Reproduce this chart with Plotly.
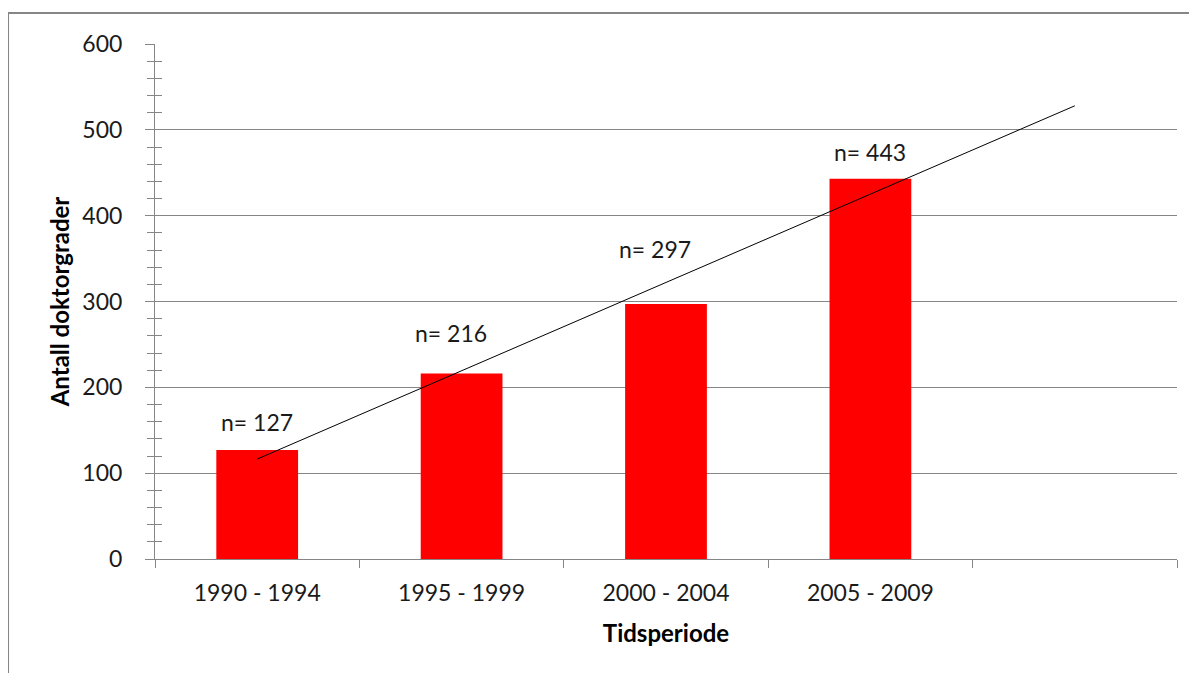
import plotly.graph_objects as go

categories = ["1990 - 1994", "1995 - 1999", "2000 - 2004", "2005 - 2009"]
extra_category = " "
values = [127, 216, 297, 443]
bar_labels = ["n= 127", "n= 216", "n= 297", "n= 443"]
label_y = [160, 263, 361, 474]
label_shift = [0, -11, -11, 0]
trend_x = ["1990 - 1994", " "]
trend_y = [116.4, 528.0]

FONT = "Lato"
GRAY = "#868686"
TXT = "#1a1a1a"

fig = go.Figure()
fig.add_trace(go.Bar(x=categories, y=values, marker=dict(color="#FF0000", line=dict(width=0)),
                     showlegend=False, hoverinfo="x+y"))
fig.add_trace(go.Scatter(x=trend_x, y=trend_y, mode="lines", yaxis="y2",
                         line=dict(color="#000000", width=1), showlegend=False))

for c, t, yy, s in zip(categories, bar_labels, label_y, label_shift):
    fig.add_annotation(x=c, y=yy, text=t, showarrow=False, xshift=s,
                       font=dict(family=FONT, size=23, color=TXT))

fig.update_layout(
    width=1197, height=673,
    margin=dict(l=147, r=28, t=36, b=122),
    paper_bgcolor="white", plot_bgcolor="white",
    bargap=0.6,
    font=dict(family=FONT, size=23, color=TXT),
    xaxis=dict(
        type="category", categoryorder="array",
        categoryarray=categories + [extra_category],
        range=[-0.5, 4.5], automargin=False,
        tickson="boundaries", ticks="outside", ticklen=8, tickcolor=GRAY, tickwidth=1,
        showline=True, linecolor=GRAY, linewidth=1, showgrid=False,
        ticklabelstandoff=13,
        tickfont=dict(family=FONT, size=23, color=TXT),
        title=dict(text="<b>Tidsperiode</b>", font=dict(family=FONT, size=24, color="#000000"), standoff=20),
    ),
    yaxis=dict(
        range=[0, 600], dtick=100, ticks="outside", ticklen=9, tickcolor=GRAY, automargin=False,
        showline=True, linecolor=GRAY, linewidth=1,
        showgrid=True, gridcolor=GRAY, gridwidth=1, zeroline=False,
        minor=dict(dtick=20, ticks="outside", ticklen=7, tickcolor=GRAY, showgrid=False),
        ticklabelstandoff=18,
        tickfont=dict(family=FONT, size=23, color=TXT),
        title=dict(text="<b>Antall doktorgrader</b>", font=dict(family=FONT, size=24, color="#000000"), standoff=5),
    ),
    yaxis2=dict(
        overlaying="y", range=[0, 600], dtick=20, ticks="inside", ticklen=7, tickcolor=GRAY,
        showticklabels=False, showgrid=False, zeroline=False, showline=False, side="left",
        automargin=False,
    ),
)

fig.add_shape(type="rect", xref="paper", yref="paper",
              x0=-0.1438, x1=1.1, y0=-0.4, y1=1.0602,
              line=dict(color=GRAY, width=2), fillcolor="rgba(0,0,0,0)", layer="below")

fig.write_html("out.html")
